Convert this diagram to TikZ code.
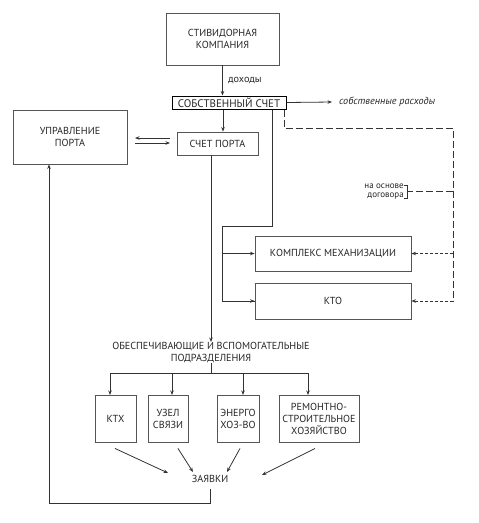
\documentclass[tikz,border=0pt]{standalone}
\usepackage{fontspec}
\setmainfont{PT Sans}
\usetikzlibrary{arrows.meta}
\definecolor{ln}{HTML}{333333}
\definecolor{bx}{HTML}{555555}
\tikzset{
  box/.style={draw=bx, line width=0.9pt, inner sep=0pt, align=center, text=black!85, font=\fontsize{10.2}{12}\selectfont},
  plain/.style={inner sep=0pt, align=center, text=black!85, font=\fontsize{10.2}{12}\selectfont},
  conn/.style={draw=ln, line width=0.8pt},
  arr/.style={conn, -{Stealth[length=4.5pt,width=3.5pt]}},
  darr/.style={arr, dash pattern=on 3pt off 2pt},
  dline/.style={conn, dash pattern=on 7pt off 3pt},
}
\begin{document}
\begin{tikzpicture}[x=1pt,y=-1pt]
\useasboundingbox (0,0) rectangle (479,523);
% boxes
\node[box, minimum width=113pt, minimum height=52pt] (stiv) at (222.5,39) {СТИВИДОРНАЯ\\КОМПАНИЯ};
\node[box, line width=1pt, draw=black, minimum width=114pt, minimum height=13pt, font=\fontsize{11}{12}\selectfont] (sob) at (229,102.5) {СОБСТВЕННЫЙ СЧЕТ};
\node[box, minimum width=81pt, minimum height=23pt] (schet) at (217.5,143.5) {СЧЕТ ПОРТА};
\node[box, minimum width=114pt, minimum height=54pt] (upr) at (70,137) {УПРАВЛЕНИЕ\\ПОРТА};
\node[box, minimum width=156pt, minimum height=35pt] (kompl) at (333,253.5) {КОМПЛЕКС МЕХАНИЗАЦИИ};
\node[box, minimum width=156pt, minimum height=36pt] (kto) at (333,301) {КТО};
\node[box, minimum width=41pt, minimum height=47pt] (ktx) at (115.5,418.5) {КТХ};
\node[box, minimum width=40pt, minimum height=47pt] (uzel) at (168,418.5) {УЗЕЛ\\СВЯЗИ};
\node[box, minimum width=42pt, minimum height=47pt] (energo) at (238,418.5) {ЭНЕРГО\\ХОЗ-ВО};
\node[box, minimum width=80pt, minimum height=47pt] (remont) at (319,418.5) {РЕМОНТНО-\\СТРОИТЕЛЬНОЕ\\ХОЗЯЙСТВО};
% texts
\node[plain, anchor=west] (doh) at (228,81) {доходы};
\node[plain, anchor=west, font=\fontsize{10.2}{12}\selectfont\itshape] (rash) at (339,102) {собственные расходы};
\node[plain, align=right, anchor=east, font=\fontsize{9}{8.5}\selectfont] (dog) at (404,191.5) {на основе\\договора};
\node[plain] (obesp) at (211,352.5) {ОБЕСПЕЧИВАЮЩИЕ И ВСПОМОГАТЕЛЬНЫЕ\\ПОДРАЗДЕЛЕНИЯ};
\node[plain, minimum height=12pt] (zay) at (210,479) {ЗАЯВКИ};
% coordinates
\coordinate (rashend) at (332,102);
\coordinate (solidturn) at (222,226);
\coordinate (dashturn) at (453,128);
\coordinate (bus) at (211,373);
\coordinate (loop) at (49,503);
\coordinate (lrA) at (170,138);
\coordinate (lrB) at (135,138);
\coordinate (lrC) at (135,143);
\coordinate (lrD) at (170,143);
% connectors
\draw[arr] (stiv.south) -- (stiv.south |- sob.north);
\draw[arr] (sob.east) -- (rashend);
\draw[arr] ([xshift=-6pt]sob.south) -- ([xshift=-6pt]sob.south |- schet.north);
\draw[arr] (lrA) -- (lrB);
\draw[arr] (lrC) -- (lrD);
% solid line to КОМПЛЕКС / КТО
\draw[conn] ([xshift=43pt]sob.south) |- (solidturn) |- (kto.west);
\draw[arr] (solidturn |- kto.west) -- (kto.west);
\draw[arr] (solidturn |- kompl.west) -- (kompl.west);
% dashed
\draw[dline] ([xshift=55pt]sob.south) |- (dashturn) -- (dashturn |- kto.east);
\draw[darr] (dashturn |- kto.east) -- (kto.east);
\draw[darr] (dashturn |- kompl.east) -- (kompl.east);
\draw[dline] (dashturn |- dog.east) -- ([xshift=3pt]dog.east);
\draw[conn, line width=0.7pt] ([yshift=6.5pt]dog.east) -- ++(3,0) -- ++(0,13) -- ++(-3,0);
% СЧЕТ ПОРТА down
\draw[arr] (schet.south -| bus) -- (obesp.north -| bus);
\draw[conn] (obesp.south -| bus) -- (bus);
\draw[conn] (110,373) -- (308,373);
\draw[arr] (110,373) -- (110,395);
\draw[arr] (172,373) -- (172,395);
\draw[arr] (243,373) -- (243,395);
\draw[arr] (308,373) -- (308,395);
% to ЗАЯВКИ
\draw[arr] ([xshift=-0.5pt,yshift=-6pt]ktx.south) -- (168,473);
\draw[arr] ([xshift=10pt,yshift=-6pt]uzel.south) -- (193,472);
\draw[arr] ([xshift=2pt,yshift=-6pt]energo.south) -- (227,472);
\draw[arr] ([xshift=-4pt,yshift=-6pt]remont.south) -- (262,475);
% loop back
\draw[arr] ([yshift=-4pt]zay.south) -- (210,503) -| (upr.south -| loop);
\end{tikzpicture}
\end{document}
